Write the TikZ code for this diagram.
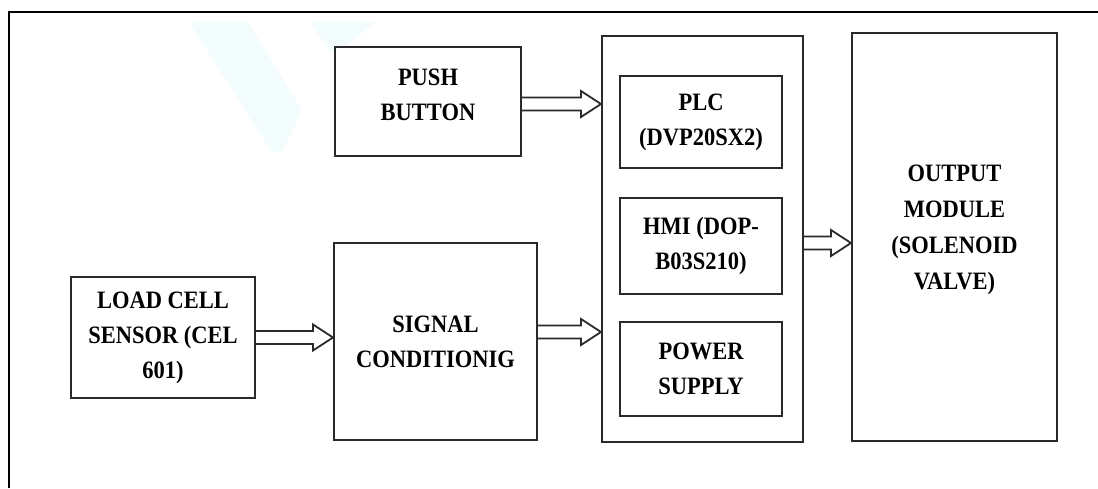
\documentclass[tikz,border=0pt]{standalone}
\usepackage{fontspec}
\newfontfamily\diagfont[FakeStretch=0.9]{Liberation Serif}
\usetikzlibrary{calc}
\definecolor{boxline}{HTML}{2A2A2A}
\definecolor{wmark}{HTML}{F3FDFD}

% hollow block arrow from the east side of #1 to the west side of #2, shifted by #3
\newcommand{\fatarrow}[3]{%
  \coordinate (fa-s) at ($(#1)+(0,#3)$);
  \coordinate (fa-e) at (#2 |- fa-s);
  \draw[fatline] ($(fa-s)+(0,-6.5)$) -- ($(fa-e)+(-20,-6.5)$) -- ($(fa-e)+(-20,-13)$)
    -- (fa-e) -- ($(fa-e)+(-20,13)$) -- ($(fa-e)+(-20,6.5)$) -- ($(fa-s)+(0,6.5)$);
}

\begin{document}
\begin{tikzpicture}[x=1pt,y=-1pt,
  blockbox/.style={draw=boxline, line width=2pt, rectangle, inner sep=0pt, align=center,
    font=\diagfont\bfseries\fontsize{25}{35}\selectfont, fill=white},
  fatline/.style={draw=boxline, line width=1.8pt, fill=white, line join=miter},
  frameline/.style={draw=black, line width=2.6pt}]

% canvas
\fill[white] (0,0) rectangle (1098,488);
\useasboundingbox (0,0) rectangle (1098,488);

% faint background mark
\fill[wmark] (189,22) -- (248,22) -- (302,110) -- (282,152) -- (272,152) -- cycle;
\fill[wmark] (310,22) -- (375,22) -- (340,52) -- (330,52) -- cycle;

% outer frame
\draw[frameline] (9,488) -- (9,12) -- (1098,12);

% blocks
\node[blockbox, minimum width=186pt, minimum height=109pt] (pb) at (428,101.5) {};
\node[font=\diagfont\bfseries\fontsize{25}{35}\selectfont, align=center] (pbt) at (428,95) {PUSH\\BUTTON};

\node[blockbox, minimum width=184pt, minimum height=121pt] (lc) at (163,337.5)
  {LOAD CELL\\SENSOR (CEL\\601)};

\node[blockbox, minimum width=203pt, minimum height=197pt] (sig) at (435.5,341.5)
  {SIGNAL\\CONDITIONIG};

\node[blockbox, minimum width=201pt, minimum height=406pt] (big) at (702.5,239) {};

\node[blockbox, minimum width=162pt, minimum height=92pt] (plc) at (701,122)
  {PLC\\(DVP20SX2)};
\node[blockbox, minimum width=162pt, minimum height=96pt] (hmi) at (701,246)
  {HMI (DOP-\\B03S210)};
\node[blockbox, minimum width=162pt, minimum height=94pt] (pwr) at (701,369)
  {POWER\\SUPPLY};

\node[blockbox, minimum width=205pt, minimum height=408pt] (out) at (954.5,237) {};
\node[font=\diagfont\bfseries\fontsize{25}{36}\selectfont, align=center] (outt) at (954.5,230)
  {OUTPUT\\MODULE\\(SOLENOID\\VALVE)};

% connectors
\fatarrow{pb.east}{big.west}{2.5}
\fatarrow{lc.east}{sig.west}{0}
\fatarrow{sig.east}{big.west}{-9.5}
\fatarrow{big.east}{out.west}{4}

\end{tikzpicture}
\end{document}
